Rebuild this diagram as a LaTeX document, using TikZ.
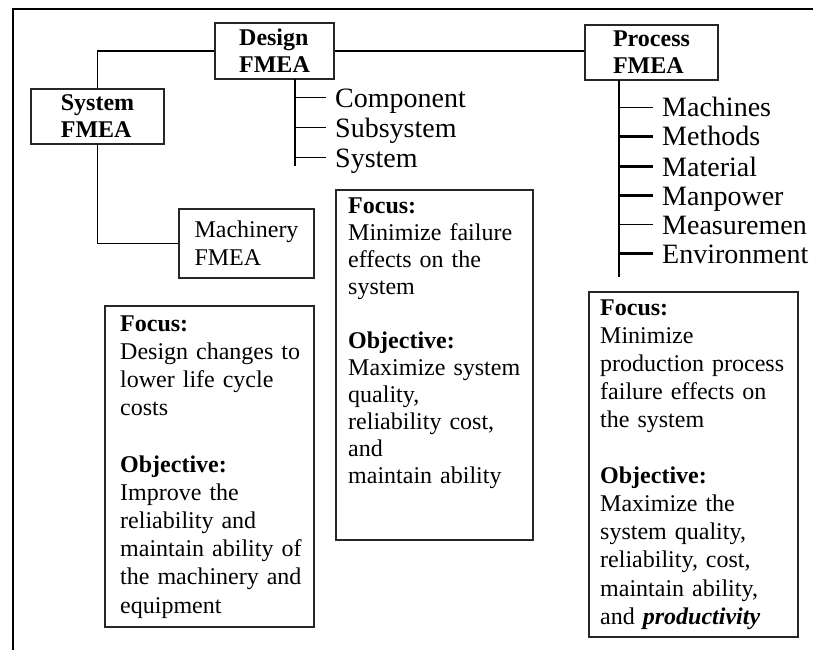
\documentclass[tikz,border=0pt]{standalone}
\usepackage{fontspec}
\setmainfont{Liberation Serif}
\begin{document}
\begin{tikzpicture}[x=1pt,y=-1pt,
  frame/.style={line width=2.6pt},
  link/.style={line width=1.8pt},
  twig/.style={line width=1.3pt},
  twigbold/.style={line width=2.4pt},
  titlebox/.style={draw=black!85, line width=1.4pt, inner sep=0pt, align=left,
    font=\fontsize{24}{27}\selectfont\bfseries},
  plainbox/.style={draw=black!85, line width=1.4pt, inner sep=0pt, align=left,
    font=\fontsize{24}{28}\selectfont},
  notebox/.style={draw=black!85, line width=1.4pt, inner sep=0pt},
  notetext/.style={anchor=base west, inner sep=0pt, text width=#1, align=left},
  leaf/.style={anchor=base west, inner xsep=9pt, inner ysep=0pt,
    text height=19pt, text depth=0pt, font=\fontsize{28}{33}\selectfont}
]
\useasboundingbox (0,0) rectangle (813,650);

% outer frame (open to the right and bottom)
\draw[frame] (13,650) -- (13,9) -- (813,9);

% FMEA level boxes
\node[titlebox, minimum width=119pt, minimum height=56pt] (design) at (274.5,51) {Design\\FMEA};
\node[titlebox, minimum width=133pt, minimum height=55pt] (system) at (97.5,116.5) {System\\FMEA};
\node[titlebox, minimum width=133pt, minimum height=55pt] (process) at (651.5,52.5) {Process\\FMEA};
\node[plainbox, minimum width=135pt, minimum height=69pt] (machinery) at (246.5,243.5) {Machinery\\FMEA};

% links between the FMEA boxes
\draw[link] (design.west) -| (system.north);
\draw[link] (design.east) -- (design.east -| process.west);
\draw[link] (system.south) |- (machinery.west);

% design FMEA levels
\coordinate (dtop) at (295,79);
\coordinate (dbot) at (295,166);
\node[leaf] (comp) at (326,107) {Component};
\node[leaf] (subsys) at (326,137) {Subsystem};
\node[leaf] (sys) at (326,167) {System};
\draw[link, line width=1.6pt] (dtop) -- (dbot);
\foreach \n in {comp,subsys,sys}
  \draw[twig] (\n.west -| dtop) -- (\n.west);

% process FMEA factors
\coordinate (ptop) at (619,80);
\coordinate (pbot) at (619,277);
\node[leaf] (mach) at (653,117) {Machines};
\node[leaf] (meth) at (653,146) {Methods};
\node[leaf] (matl) at (653,176) {Material};
\node[leaf] (manp) at (653,205) {Manpower};
\node[leaf] (meas) at (653,234) {Measuremen};
\node[leaf] (envi) at (653,263) {Environment};
\draw[link, line width=1.6pt] (ptop) -- (pbot);
\draw[twig] (mach.west -| ptop) -- (mach.west);
\draw[twigbold] (meth.west -| ptop) -- (meth.west);
\draw[twigbold] (matl.west -| ptop) -- (matl.west);
\draw[twigbold] (manp.west -| ptop) -- (manp.west);
\draw[twig] (meas.west -| ptop) -- (meas.west);
\draw[twigbold] (envi.west -| ptop) -- (envi.west);

% focus / objective boxes
\node[notebox, minimum width=209pt, minimum height=321pt] (noteL) at (209.5,466.5) {};
\node[notebox, minimum width=197pt, minimum height=350pt] (noteM) at (434.5,365) {};
\node[notebox, minimum width=209pt, minimum height=345pt] (noteR) at (693.5,464.5) {};

\node[notetext=192pt, font=\fontsize{24}{28.2}\selectfont] (textL) at (120,331)
  {\textbf{Focus:}\\Design changes to\\lower life cycle\\costs\\\mbox{}\\\textbf{Objective:}\\Improve the\\reliability and\\maintain ability of\\the machinery and\\equipment};
\node[notetext=182pt, font=\fontsize{24}{27}\selectfont] (textM) at (348,213)
  {\textbf{Focus:}\\Minimize failure\\effects on the\\system\\\mbox{}\\\textbf{Objective:}\\Maximize system\\quality,\\reliability cost,\\and\\maintain ability};
\node[notetext=194pt, font=\fontsize{24}{28.1}\selectfont] (textR) at (600,315)
  {\textbf{Focus:}\\Minimize\\production process\\failure effects on\\the system\\\mbox{}\\\textbf{Objective:}\\Maximize the\\system quality,\\reliability, cost,\\maintain ability,\\and \textbf{\textit{productivity}}};
\end{tikzpicture}
\end{document}
